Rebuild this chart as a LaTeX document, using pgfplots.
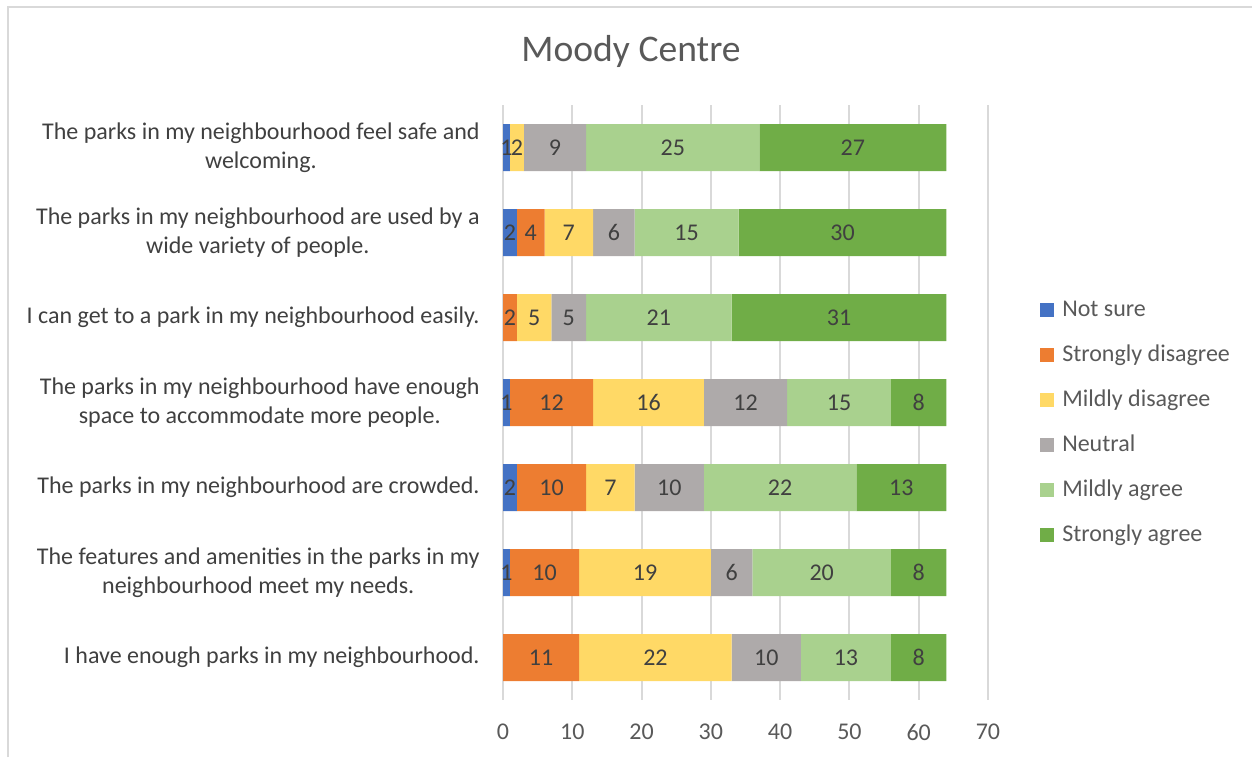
\documentclass[border=0pt]{standalone}
\usepackage{fontspec}
\setmainfont{Carlito}
\usepackage{pgfplots}
\usepackage{pgfplotstable}
\pgfplotsset{compat=1.18}
\definecolor{cNS}{HTML}{4472C4}
\definecolor{cSD}{HTML}{ED7D31}
\definecolor{cMD}{HTML}{FFD966}
\definecolor{cNE}{HTML}{AEAAAA}
\definecolor{cMA}{HTML}{A9D18E}
\definecolor{cSA}{HTML}{70AD47}
\definecolor{gridc}{HTML}{D9D9D9}
\definecolor{txt}{HTML}{595959}
\definecolor{lab}{HTML}{404040}
\pgfplotstableread{
idx ns sd md ne ma sa
0 1 0 2 9 25 27
1 2 4 7 6 15 30
2 0 2 5 5 21 31
3 1 12 16 12 15 8
4 2 10 7 10 22 13
5 1 10 19 6 20 8
6 0 11 22 10 13 8
}\datatable
\begin{document}
\begin{tikzpicture}
\path[use as bounding box] (0,0) rectangle (626pt,378.5pt);
\draw[gridc, line width=0.6pt] (4pt,0) -- (4pt,375pt) -- (626pt,375pt);
\begin{axis}[
  at={(251.5pt,28.5pt)}, anchor=south west,
  scale only axis, width=242.5pt, height=297.5pt,
  xbar stacked, bar width=23.5pt,
  xmin=0, xmax=70, ymin=-0.5, ymax=6.5,
  y dir=reverse,
  axis line style={draw=none},
  xmajorgrids, major grid style={gridc, line width=1pt},
  xtick={0,10,...,70},
  ytick={0,...,6},
  yticklabels={
    {The parks in my neighbourhood feel safe and\\welcoming.},
    {The parks in my neighbourhood are used by a\\wide variety of people.},
    {I can get to a park in my neighbourhood easily.},
    {The parks in my neighbourhood have enough\\space to accommodate more people.},
    {The parks in my neighbourhood are crowded.},
    {The features and amenities in the parks in my\\neighbourhood meet my needs.},
    {I have enough parks in my neighbourhood.}},
  major tick length=0pt,
  tick style={draw=none},
  /pgf/number format/assume math mode=true,
  xticklabel style={font=\fontsize{12}{14}\selectfont, text=txt, anchor=center, yshift=-16pt},
  yticklabel style={font=\fontsize{12}{14.5}\selectfont, text=lab, align=center, anchor=east, inner sep=0pt, xshift=-11.5pt},
  title={Moody Centre},
  title style={font=\fontsize{18.8}{22}\selectfont, text=txt, at={(0.264,1)}, anchor=center, yshift=21pt},
  point meta=explicit,
  nodes near coords={\pgfmathfloatifflags{\pgfplotspointmeta}{0}{}{\pgfmathprintnumber{\pgfplotspointmeta}}},
  every node near coord/.append style={font=\fontsize{12}{14}\selectfont, text=lab, anchor=center},
  legend style={at={(1.107,0.466)}, anchor=west, draw=none, fill=none, font=\fontsize{12}{14}\selectfont, text=txt, row sep=8.7pt, inner sep=0pt, nodes={inner xsep=4pt}},
  legend cell align=left,
  legend image code/.code={\fill[#1] (0pt,-3.5pt) rectangle (7pt,3.5pt);},
]
\addplot[fill=cNS, draw=none] table[x=ns, y=idx, meta=ns] {\datatable};
\addplot[fill=cSD, draw=none] table[x=sd, y=idx, meta=sd] {\datatable};
\addplot[fill=cMD, draw=none] table[x=md, y=idx, meta=md] {\datatable};
\addplot[fill=cNE, draw=none] table[x=ne, y=idx, meta=ne] {\datatable};
\addplot[fill=cMA, draw=none] table[x=ma, y=idx, meta=ma] {\datatable};
\addplot[fill=cSA, draw=none] table[x=sa, y=idx, meta=sa] {\datatable};
\legend{Not sure, Strongly disagree, Mildly disagree, Neutral, Mildly agree, Strongly agree}
\end{axis}
\end{tikzpicture}
\end{document}
